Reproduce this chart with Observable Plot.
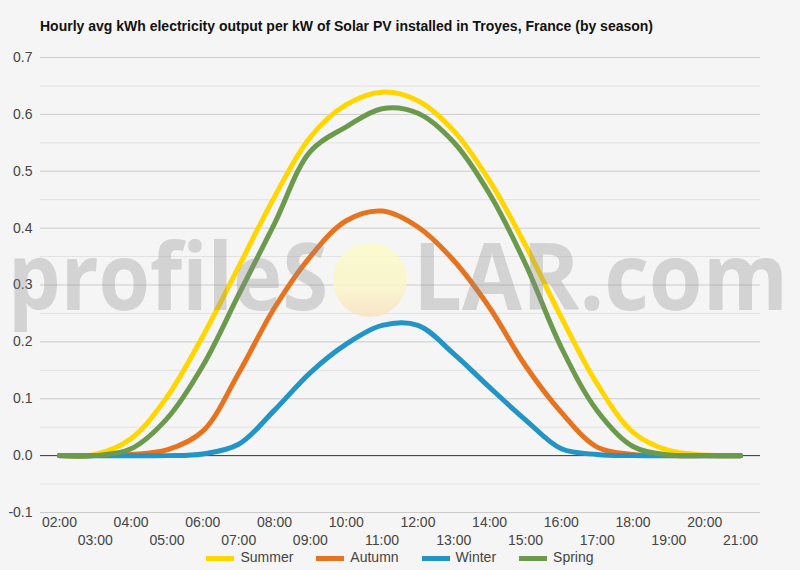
<!DOCTYPE html>
<html><head><meta charset="utf-8">
<script src="https://cdn.jsdelivr.net/npm/d3@7"></script>
<script src="https://cdn.jsdelivr.net/npm/@observablehq/plot@0.6"></script>
<style>
html,body{margin:0;padding:0;background:#f5f5f5;}
#wrap{position:relative;width:800px;height:570px;font-family:"Liberation Sans",Arial,sans-serif;overflow:hidden;background:#f5f5f5;}
#title{position:absolute;left:40px;top:18px;font-size:14px;font-weight:bold;color:#111;white-space:nowrap;}
#chart{position:absolute;left:0;top:0;}
#wm{position:absolute;left:0;top:0;pointer-events:none;}
#legend{position:absolute;left:0;top:549px;width:800px;display:flex;justify-content:center;gap:23px;font-size:14px;color:#444;}
.item{display:flex;align-items:center;}
.sw{width:28px;height:5px;margin-right:6px;margin-top:3px;}
</style></head>
<body>
<div id="wrap">
  <div id="chart"></div>
  <svg id="wm" width="800" height="570">
    <defs>
      <linearGradient id="sun" x1="0" y1="0" x2="0" y2="1">
        <stop offset="0" stop-color="#fbfbc8"/>
        <stop offset="0.6" stop-color="#faf5c8"/>
        <stop offset="1" stop-color="#f9e2c0"/>
      </linearGradient>
    </defs>
    <text x="8" y="310" textLength="320" lengthAdjust="spacingAndGlyphs" font-family="Open Sans" font-weight="700" font-size="94" fill="rgb(140,140,140)" fill-opacity="0.32">profileS</text>
    <circle cx="370" cy="280" r="37" fill="url(#sun)" fill-opacity="0.85"/>
    <text x="413" y="310" textLength="375" lengthAdjust="spacingAndGlyphs" font-family="Open Sans" font-weight="700" font-size="94" fill="rgb(140,140,140)" fill-opacity="0.32">LAR.com</text>
  </svg>
  <div id="title"></div>
  <div id="legend"></div>
</div>
<script>
const titleText = "Hourly avg kWh electricity output per kW of Solar PV installed in Troyes, France (by season)";
const hours = ["02:00","03:00","04:00","05:00","06:00","07:00","08:00","09:00","10:00","11:00",
               "12:00","13:00","14:00","15:00","16:00","17:00","18:00","19:00","20:00","21:00"];
const summer = [0, 0.002, 0.03, 0.103, 0.21, 0.332, 0.455, 0.56, 0.617, 0.639, 0.624, 0.571, 0.483, 0.37, 0.243, 0.126, 0.041, 0.009, 0.001, 0];
const autumn = [0, 0, 0.002, 0.01, 0.043, 0.145, 0.26, 0.35, 0.413, 0.43, 0.402, 0.343, 0.26, 0.158, 0.076, 0.015, 0.002, 0, 0, 0];
const winter = [0, 0, 0, 0, 0.003, 0.02, 0.08, 0.146, 0.196, 0.229, 0.229, 0.179, 0.12, 0.063, 0.012, 0.002, 0, 0, 0, 0];
const spring = [0, 0, 0.012, 0.065, 0.158, 0.283, 0.408, 0.535, 0.578, 0.61, 0.602, 0.551, 0.46, 0.337, 0.19, 0.079, 0.016, 0.001, 0, 0];
const seriesNames = ["Summer", "Autumn", "Winter", "Spring"];
const seriesColors = ["#ffd600", "#e8731f", "#2394c6", "#6b9a4d"];
const majorTicks = [-0.1, 0, 0.1, 0.2, 0.3, 0.4, 0.5, 0.6, 0.7];
const minorTicks = [-0.05, 0.05, 0.15, 0.25, 0.35, 0.45, 0.55, 0.65];

document.getElementById("title").textContent = titleText;

const seriesValues = [summer, autumn, winter, spring];
const data = seriesNames.flatMap((s, i) => hours.map((h, j) => ({season: s, hour: h, value: seriesValues[i][j]})));
const evenHours = hours.filter((h, i) => i % 2 === 0);
const oddHours = hours.filter((h, i) => i % 2 === 1);

const chart = Plot.plot({
  width: 800, height: 550,
  marginLeft: 41, marginRight: 42, marginTop: 57, marginBottom: 38,
  style: {background: "transparent", fontFamily: "'Liberation Sans', Arial, sans-serif", fontSize: "14px", color: "#444"},
  x: {type: "point", domain: hours, padding: 0.5, round: false, axis: null, label: null},
  y: {domain: [-0.1, 0.7], axis: null, label: null},
  color: {domain: seriesNames, range: seriesColors},
  marks: [
    Plot.ruleY(minorTicks, {stroke: "#e2e2e2", insetLeft: -1, insetRight: -2}),
    Plot.ruleY(majorTicks.filter(d => d !== 0), {stroke: "#cbcbcb", insetLeft: -1, insetRight: -2}),
    Plot.ruleY([0], {stroke: "#333", insetLeft: -1, insetRight: -2}),
    Plot.axisY(majorTicks, {tickSize: 0, tickPadding: 9, tickFormat: d => d.toFixed(1), fontSize: 14, fill: "#444", label: null}),
    Plot.axisX(evenHours, {tickSize: 0, tickPadding: 5, fontSize: 14, fill: "#444", label: null}),
    Plot.axisX(oddHours, {tickSize: 0, tickPadding: 23, fontSize: 14, fill: "#444", label: null}),
    Plot.line(data, {x: "hour", y: "value", z: "season", stroke: "season", strokeWidth: 5, curve: "catmull-rom"})
  ]
});
document.getElementById("chart").appendChild(chart);

const legend = document.getElementById("legend");
seriesNames.forEach((s, i) => {
  const item = document.createElement("div");
  item.className = "item";
  const sw = document.createElement("div");
  sw.className = "sw";
  sw.style.background = seriesColors[i];
  const t = document.createElement("span");
  t.textContent = s;
  item.appendChild(sw); item.appendChild(t);
  legend.appendChild(item);
});
</script>
</body></html>
